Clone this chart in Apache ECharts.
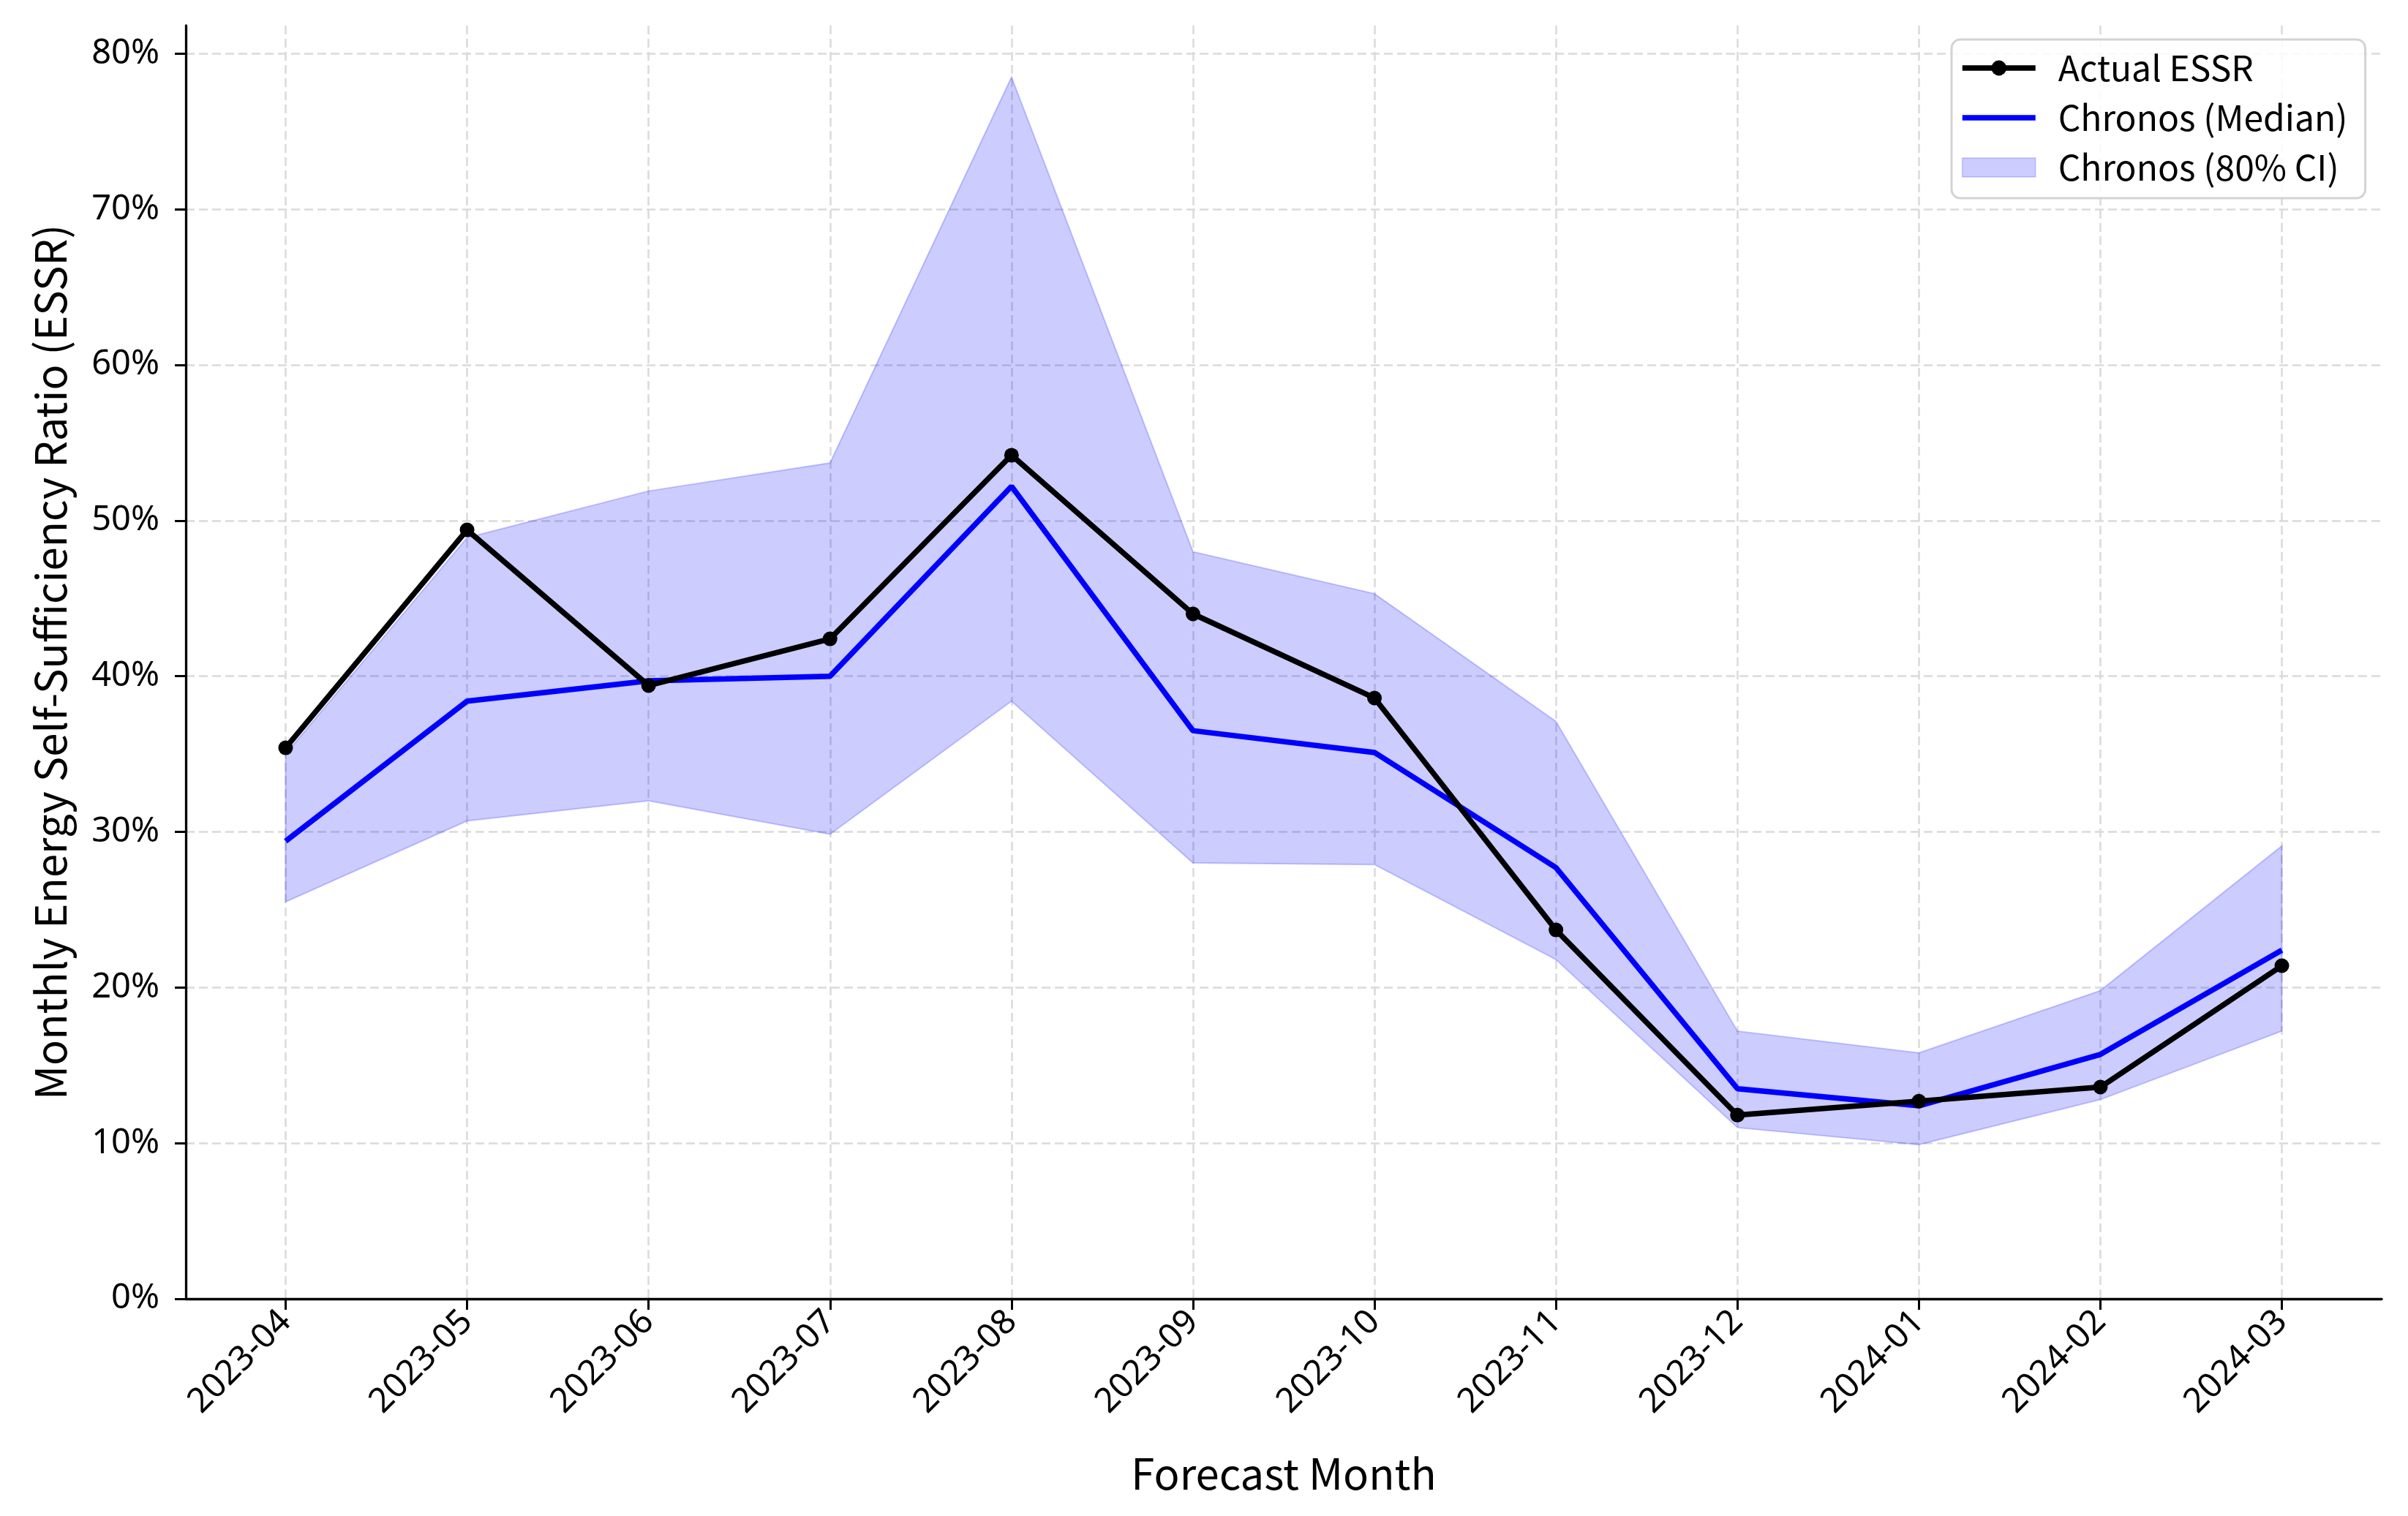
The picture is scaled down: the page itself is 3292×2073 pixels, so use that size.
<!DOCTYPE html>
<html>
<head>
<meta charset="utf-8">
<script src="https://cdn.jsdelivr.net/npm/echarts@6/dist/echarts.min.js"></script>
<style>
html,body{margin:0;padding:0;background:#fff;}
#chart{width:3292px;height:2073px;}
</style>
</head>
<body>
<div id="chart"></div>
<script>
// ---- data ----
const categories = ['2023-04','2023-05','2023-06','2023-07','2023-08','2023-09','2023-10','2023-11','2023-12','2024-01','2024-02','2024-03'];
const actualEssr = [35.4, 49.4, 39.4, 42.4, 54.2, 44.0, 38.6, 23.7, 11.8, 12.7, 13.6, 21.4];
const medianEssr = [29.4, 38.4, 39.7, 40.0, 52.2, 36.5, 35.1, 27.7, 13.5, 12.4, 15.7, 22.4];
const ciLower    = [25.5, 30.7, 32.0, 29.85, 38.4, 28.0, 27.9, 21.8, 11.0, 9.9, 12.8, 17.2];
const ciUpper    = [35.0, 48.9, 51.9, 53.7, 78.5, 48.0, 45.3, 37.1, 17.2, 15.8, 19.8, 29.1];
const yTicks = [0, 10, 20, 30, 40, 50, 60, 70, 80];

const FONT = '"Noto Sans CJK JP", "Noto Sans", sans-serif';
const TICK_FONT = '"Noto Sans", "Noto Sans CJK JP", sans-serif';
const xIdx = categories.map((c, i) => i);
const pairs = arr => arr.map((v, i) => [i, v]);
const bandData = ciUpper.map((u, i) => [i, ciLower[i], u]);

const chart = echarts.init(document.getElementById('chart'), null, {renderer: 'canvas'});
const gridStyle = {show: true, lineStyle: {color: '#dadada', width: 2.5, type: [12, 6]}};
const BAND = 'rgba(0,0,255,0.2)';

chart.setOption({
  animation: false,
  backgroundColor: '#ffffff',
  grid: {left: 254, right: 36, top: 35, bottom: 297, containLabel: false},
  xAxis: {
    type: 'value',
    min: -0.55,
    max: 11.55,
    name: 'Forecast Month',
    nameLocation: 'middle',
    nameGap: 210,
    nameTextStyle: {fontFamily: FONT, fontSize: 58, color: '#000'},
    axisLine: {show: true, onZero: false, lineStyle: {color: '#000', width: 3.3}},
    axisTick: {show: true, customValues: xIdx, length: 15, lineStyle: {color: '#000', width: 3}},
    axisLabel: {
      customValues: xIdx,
      rotate: 45,
      margin: 24,
      fontFamily: TICK_FONT, fontSize: 47, color: '#000',
      formatter: v => categories[Math.round(v)] || ''
    },
    splitLine: gridStyle
  },
  yAxis: {
    type: 'value',
    min: 0,
    max: 81.8,
    name: 'Monthly Energy Self-Sufficiency Ratio (ESSR)',
    nameLocation: 'middle',
    nameGap: 156,
    nameTextStyle: {fontFamily: FONT, fontSize: 58, color: '#000'},
    axisLine: {show: true, onZero: false, lineStyle: {color: '#000', width: 3.3}},
    axisTick: {show: true, customValues: yTicks, length: 15, lineStyle: {color: '#000', width: 3}},
    axisLabel: {
      customValues: yTicks,
      margin: 36,
      fontFamily: TICK_FONT, fontSize: 47, color: '#000',
      formatter: v => Math.round(v) + '%'
    },
    splitLine: gridStyle
  },
  legend: {
    orient: 'vertical',
    left: 2668,
    top: 54,
    padding: [15, 24, 18, 11],
    itemWidth: 100,
    itemHeight: 26,
    itemGap: 20,
    backgroundColor: 'rgba(255,255,255,0.85)',
    borderColor: '#d3d3d3',
    borderWidth: 3,
    borderRadius: 12,
    lineStyle: {width: 'inherit'},
    textStyle: {fontFamily: FONT, fontSize: 48, color: '#000', lineHeight: 48, padding: [0, 0, 0, 26]},
    data: [
      {name: 'Actual ESSR'},
      {name: 'Chronos (Median)', itemStyle: {color: 'rgba(0,0,0,0)', borderWidth: 0}},
      {name: 'Chronos (80% CI)', icon: 'rect',
        itemStyle: {color: BAND, borderColor: 'rgba(0,0,255,0.15)', borderWidth: 2}}
    ]
  },
  series: [
    {
      name: 'Chronos (80% CI)',
      type: 'custom',
      data: bandData,
      encode: {x: 0, y: [1, 2]},
      z: 1,
      silent: true,
      itemStyle: {color: BAND},
      renderItem: function (params, api) {
        if (params.dataIndex !== 0) return null;
        const top = ciUpper.map((v, i) => api.coord([i, v]));
        const bottom = ciLower.map((v, i) => api.coord([i, v])).reverse();
        return {
          type: 'polygon',
          shape: {points: top.concat(bottom)},
          style: {fill: BAND, stroke: BAND, lineWidth: 2}
        };
      }
    },
    {
      name: 'Chronos (Median)',
      type: 'line',
      data: pairs(medianEssr),
      symbol: 'none',
      z: 3,
      color: '#0000ff',
      lineStyle: {color: '#0000ff', width: 7.5}
    },
    {
      name: 'Actual ESSR',
      type: 'line',
      data: pairs(actualEssr),
      symbol: 'circle',
      symbolSize: 20,
      showSymbol: true,
      z: 4,
      color: '#000000',
      itemStyle: {color: '#000000'},
      lineStyle: {color: '#000000', width: 7.5}
    }
  ]
});
</script>
</body>
</html>
